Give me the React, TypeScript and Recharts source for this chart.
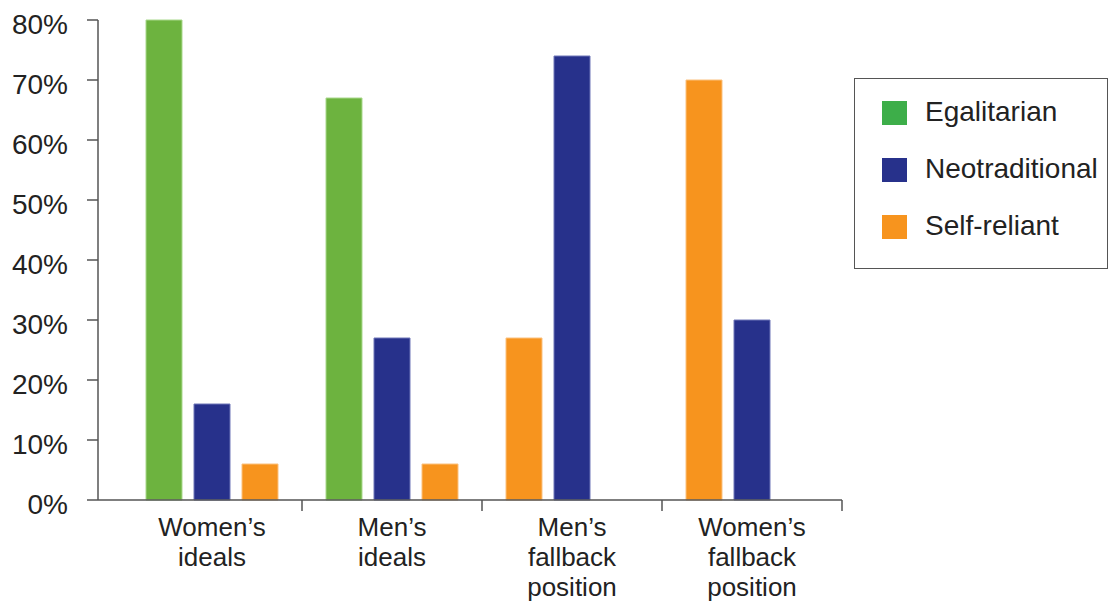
import React from "react";
import { BarChart, Bar, XAxis, YAxis, Cell, Legend } from "recharts";

// ---- data ----
const categories: string[][] = [
  ["Women’s", "ideals"],
  ["Men’s", "ideals"],
  ["Men’s", "fallback", "position"],
  ["Women’s", "fallback", "position"],
];
const seriesNames = ["Egalitarian", "Neotraditional", "Self-reliant"];
const egalitarian: (number | null)[] = [80, 67, null, null];
const neotraditional: (number | null)[] = [16, 27, 74, 30];
const selfReliant: (number | null)[] = [6, 6, 27, 70];
// order of series inside each category group (left to right)
const slotOrder: number[][] = [
  [0, 1, 2],
  [0, 1, 2],
  [2, 1],
  [2, 1],
];
const yTicks = [0, 10, 20, 30, 40, 50, 60, 70, 80];

// ---- styles ----
const barColors = ["#6db33f", "#27318b", "#f7941e"];
const barEdges = ["#a9d88c", "#6f77b8", "#fbc17f"];
const legendColors = ["#3dae49", "#27318b", "#f7941e"];
const FONT = "'Liberation Sans', Arial, Helvetica, sans-serif";
const TEXT = "#222";
const AXIS = "#555";
const PAD_LEFT = 24;

const seriesValues = [egalitarian, neotraditional, selfReliant];
const data = categories.map((c, i) => {
  const row: any = { name: c.join(" ") };
  for (let s = 0; s < 3; s++) {
    const idx = slotOrder[i][s];
    row["slot" + s] = idx === undefined ? null : seriesValues[idx][i];
    row["ser" + s] = idx === undefined ? -1 : idx;
  }
  return row;
});

const CategoryTick = (props: any) => {
  const { x, y, payload, index, width, visibleTicksCount } = props;
  const count = visibleTicksCount || categories.length;
  const band = width ? (width - PAD_LEFT) / count : 180;
  const lines = categories[index] || [String(payload.value)];
  return (
    <g>
      <line x1={x + band / 2} x2={x + band / 2} y1={y} y2={y + 11} stroke={AXIS} strokeWidth={1.5} />
      <text x={x} y={y} textAnchor="middle" fill={TEXT} fontSize={26} fontFamily={FONT}>
        {lines.map((l: string, k: number) => (
          <tspan key={k} x={x} dy={k === 0 ? 36 : 30}>
            {l}
          </tspan>
        ))}
      </text>
    </g>
  );
};

const LegendBox = () => (
  <div
    style={{
      boxSizing: "border-box",
      width: 254,
      height: 191,
      border: `1.5px solid ${AXIS}`,
      background: "#fff",
      paddingTop: 22,
      fontFamily: FONT,
    }}
  >
    {seriesNames.map((n, i) => (
      <div key={n} style={{ position: "relative", height: 57 }}>
        <div
          style={{
            position: "absolute",
            left: 27,
            top: 0,
            width: 25,
            height: 24,
            background: legendColors[i],
          }}
        />
        <div
          style={{
            position: "absolute",
            left: 70,
            top: -5,
            fontSize: 28,
            lineHeight: "32px",
            color: TEXT,
            whiteSpace: "nowrap",
          }}
        >
          {n}
        </div>
      </div>
    ))}
  </div>
);

export default function App() {
  return (
    <div style={{ position: "absolute", left: 0, top: 0, background: "#fff" }}>
      <BarChart
        width={1110}
        height={603}
        data={data}
        margin={{ top: 20, right: 268, bottom: 0, left: 0 }}
        barSize={36}
        barGap={12}
        barCategoryGap={24}
      >
        <XAxis
          dataKey="name"
          type="category"
          padding={{ left: PAD_LEFT, right: 0 }}
          height={103}
          axisLine={{ stroke: AXIS, strokeWidth: 1.5 }}
          tickLine={false}
          tickSize={0}
          tickMargin={0}
          interval={0}
          tick={<CategoryTick />}
        />
        <YAxis
          type="number"
          domain={[0, 80]}
          ticks={yTicks}
          width={98}
          interval={0}
          tickFormatter={(v: number) => `${v}%`}
          axisLine={{ stroke: AXIS, strokeWidth: 1.5 }}
          tickLine={{ stroke: AXIS, strokeWidth: 1.5 }}
          tickSize={11}
          tickMargin={19}
          tick={{ fill: TEXT, fontSize: 28, fontFamily: FONT, dy: 4 }}
        />
        <Legend
          layout="vertical"
          align="center"
          verticalAlign="middle"
          wrapperStyle={{ left: 854, top: 78, width: 254, height: 191 }}
          content={<LegendBox />}
        />
        {[0, 1, 2].map((s) => (
          <Bar key={s} dataKey={"slot" + s} isAnimationActive={false}>
            {data.map((d, i) => (
              <Cell
                key={i}
                fill={d["ser" + s] >= 0 ? barColors[d["ser" + s]] : "none"}
                stroke={d["ser" + s] >= 0 ? barEdges[d["ser" + s]] : "none"}
                strokeWidth={1}
              />
            ))}
          </Bar>
        ))}
      </BarChart>
    </div>
  );
}
